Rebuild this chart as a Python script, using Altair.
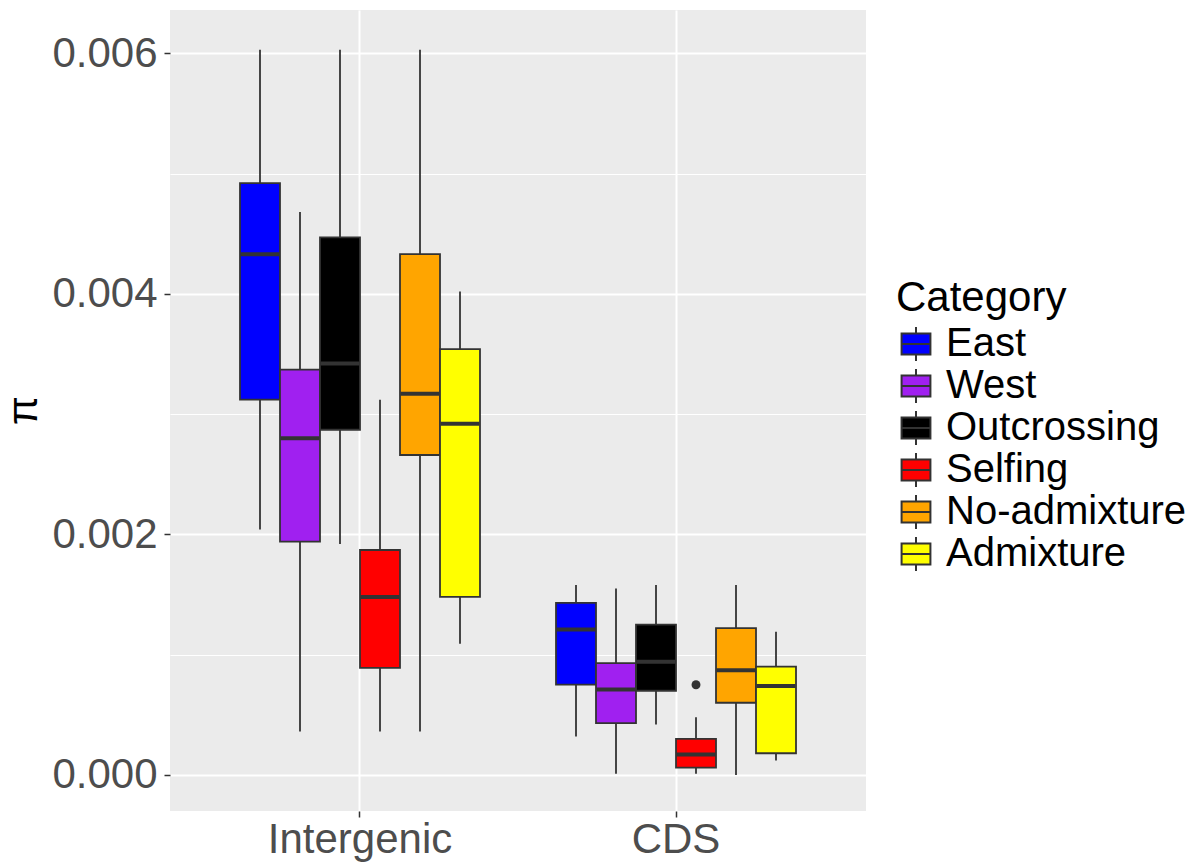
import altair as alt
import pandas as pd

# Box-plot summaries of nucleotide diversity (pi) per region and sample group
region_order = ["Intergenic", "CDS"]
category_order = ["East", "West", "Outcrossing", "Selfing", "No-admixture", "Admixture"]
category_colors = ["#0000FF", "#A020F0", "#000000", "#FF0000", "#FFA500", "#FFFF00"]

regions = ["Intergenic"] * 6 + ["CDS"] * 6
categories = category_order * 2

whisker_low = [0.00204, 0.00036, 0.00192, 0.00036, 0.00036, 0.00109,
               0.00032, 0.00001, 0.00042, 0.00001, 0.00000, 0.00012]
q1 = [0.00312, 0.00194, 0.00287, 0.00089, 0.00266, 0.00148,
      0.00075, 0.00043, 0.00070, 0.00006, 0.00060, 0.00018]
median = [0.00433, 0.00280, 0.00342, 0.00148, 0.00317, 0.00292,
          0.00121, 0.00071, 0.00094, 0.00017, 0.00087, 0.00074]
q3 = [0.00492, 0.00337, 0.00447, 0.00187, 0.00433, 0.00354,
      0.00143, 0.00093, 0.00125, 0.00030, 0.00122, 0.00090]
whisker_high = [0.00603, 0.00468, 0.00603, 0.00312, 0.00603, 0.00402,
                0.00158, 0.00155, 0.00158, 0.00048, 0.00158, 0.00119]

outlier_region = ["CDS"]
outlier_category = ["Selfing"]
outlier_value = [0.00075]

y_ticks = [0.0, 0.001, 0.002, 0.003, 0.004, 0.005, 0.006]

stats = pd.DataFrame({
    "region": regions,
    "category": categories,
    "lo": whisker_low,
    "q1": q1,
    "med": median,
    "q3": q3,
    "hi": whisker_high,
})
outliers = pd.DataFrame({
    "region": outlier_region,
    "category": outlier_category,
    "value": outlier_value,
})

FONT = "Liberation Sans"
EDGE = "#333333"
minor_test = "round(datum.value * 1000) % 2 == 1"

x_enc = alt.X(
    "region:N",
    sort=region_order,
    title=None,
    scale=alt.Scale(paddingInner=0.2405, paddingOuter=0.2215),
    axis=alt.Axis(
        labelFont=FONT, labelFontSize=42, labelColor="#4D4D4D", labelAngle=0,
        labelPadding=2, labelLimit=0, tickSize=6, tickColor=EDGE, tickWidth=1.5,
        grid=True, gridColor="white", gridWidth=2, domain=False,
    ),
)
xo_enc = alt.XOffset("category:N", sort=category_order,
                     scale=alt.Scale(paddingInner=0, paddingOuter=0))

y_scale = alt.Scale(domain=[-0.0003, 0.00636], nice=False, zero=False)
y_axis = alt.Axis(
    values=y_ticks,
    format=".3f",
    labelExpr=f"({minor_test}) ? '' : datum.label",
    labelFont=FONT, labelFontSize=42, labelColor="#4D4D4D", labelPadding=7,
    labelLimit=0,
    tickSize=6, tickColor=EDGE, tickWidth=1.5,
    tickOpacity={"condition": {"test": minor_test, "value": 0}, "value": 1},
    grid=True, gridColor="white",
    gridWidth={"condition": {"test": minor_test, "value": 1}, "value": 2},
    domain=False,
    titleFont=FONT, titleFontSize=42, titleColor="black", titleFontWeight="normal",
    titleAngle=-90, titleX=-134, titleY=400, titleBaseline="alphabetic",
    titleAlign="center",
)

def y_enc(field):
    return alt.Y(f"{field}:Q", scale=y_scale, axis=y_axis, title="π")

base = alt.Chart(stats)

whiskers = base.mark_rule(color=EDGE, strokeWidth=1.8).encode(
    x=x_enc, xOffset=xo_enc, y=y_enc("lo"), y2="hi:Q"
)

# Legend key: a small box with its median line and whisker stubs
box_symbol = ("M-1.09,-0.8H1.09V0.8H-1.09Z "
              "M-1.09,0H1.09 M0,-0.8V-1.28 M0,0.8V1.28")

boxes = base.mark_bar(stroke=EDGE, strokeWidth=1.8, opacity=1).encode(
    x=x_enc, xOffset=xo_enc, y=y_enc("q1"), y2="q3:Q",
    fill=alt.Fill(
        "category:N",
        sort=category_order,
        scale=alt.Scale(domain=category_order, range=category_colors),
        legend=alt.Legend(
            title="Category", orient="none", legendX=726, legendY=268,
            titleFont=FONT, titleFontSize=42, titleColor="black",
            titleFontWeight="normal", titlePadding=4, titleLimit=0,
            labelFont=FONT, labelFontSize=40, labelColor="black", labelLimit=0,
            labelOffset=10, rowPadding=0, padding=0,
            symbolType=box_symbol, symbolSize=700,
            symbolStrokeColor=EDGE, symbolStrokeWidth=2, symbolOpacity=1,
        ),
    ),
)

medians = base.mark_tick(color=EDGE, size=39, thickness=4, opacity=1).encode(
    x=x_enc, xOffset=xo_enc, y=y_enc("med")
)

points = alt.Chart(outliers).mark_point(
    filled=True, color=EDGE, size=80, opacity=1
).encode(x=x_enc, xOffset=xo_enc, y=y_enc("value"))

chart = alt.layer(whiskers, boxes, medians, points).properties(
    width=696,
    height=801,
    autosize=alt.AutoSizeParams(type="none"),
    padding={"left": 170, "top": 10, "right": 338, "bottom": 51},
    background="white",
).configure_view(fill="#EBEBEB", stroke=None)

chart.save("out.html", embed_options={"renderer": "svg", "actions": False})
